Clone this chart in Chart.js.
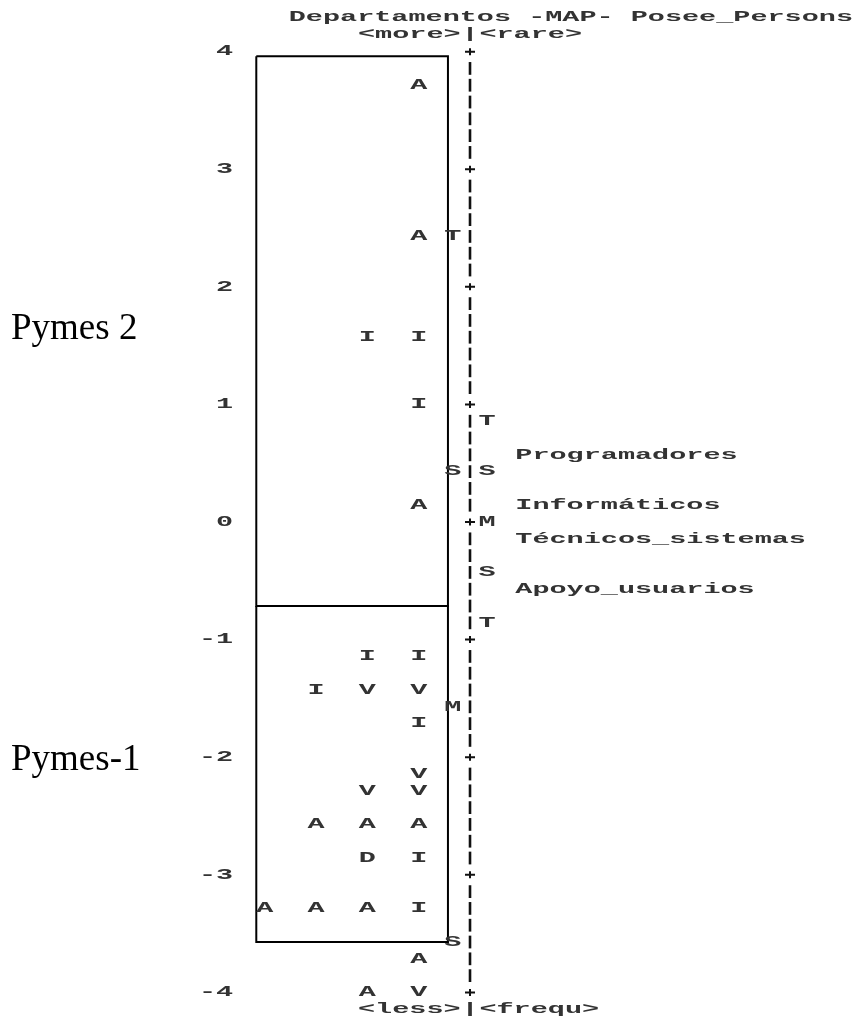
<!DOCTYPE html>
<html>
<head>
<meta charset="utf-8">
<script src="https://cdn.jsdelivr.net/npm/chart.js@4.4.1/dist/chart.umd.min.js"></script>
<style>
  html, body { margin: 0; padding: 0; background: #fff; }
  canvas { display: block; }
</style>
</head>
<body>
<canvas id="mapa" width="860" height="1019"></canvas>
<script>
// scale ticks of the logit axis
var tickValues = [4, 3, 2, 1, 0, -1, -2, -3, -4];

// persons: letter, column (text columns left of the axis), logit
var personCodes  = ['A', 'A', 'I', 'I', 'I', 'A', 'I', 'I', 'I', 'V', 'V', 'I', 'V', 'V', 'V', 'A', 'A', 'A', 'D', 'I', 'A', 'A', 'A', 'I', 'A', 'A', 'V'];
var personCols   = [-3, -3, -6, -3, -3, -3, -6, -3, -9, -6, -3, -3, -3, -6, -3, -9, -6, -3, -6, -3, -12, -9, -6, -3, -3, -6, -3];
var personLogits = [3.714, 2.429, 1.571, 1.571, 1.0, 0.143, -1.143, -1.143, -1.429, -1.429, -1.429, -1.714, -2.143, -2.286, -2.286,
                    -2.571, -2.571, -2.571, -2.857, -2.857, -3.286, -3.286, -3.286, -3.286, -3.714, -4.0, -4.0];

// person distribution markers (left of axis)
var personMarks  = ['T', 'S', 'M', 'S'];
var personMarkLogits = [2.429, 0.429, -1.571, -3.571];

// item distribution markers (right of axis)
var itemMarks  = ['T', 'S', 'M', 'S', 'T'];
var itemMarkLogits = [0.857, 0.429, 0, -0.429, -0.857];

// items
var itemNames  = ['Programadores', 'Informáticos', 'Técnicos_sistemas', 'Apoyo_usuarios'];
var itemLogits = [0.571, 0.143, -0.143, -0.571];

// groups framed on the map
var groupNames  = ['Pymes 2', 'Pymes-1'];
var groupTop    = [3.96, -0.714];
var groupBottom = [-0.714, -3.571];
var groupLabelLogits = [1.64, -2.03];

var headerTop  = 'Departamentos -MAP- Posee_Persons';
var headerLeft = ['<more>', '<less>'];
var headerRight = ['<rare>', '<frequ>'];

(function () {
    'use strict';

    var MONO = 'bold 15px "Liberation Mono", "DejaVu Sans Mono", monospace';
    var INK = '#333';

    function pts(cols, logits) {
        return logits.map(function (v, i) {
            return { x: Array.isArray(cols) ? cols[i] : cols, y: v };
        });
    }

    function boxData(i) {
        var l = -12.5, r = -1.29;
        return [
            { x: l, y: groupTop[i] }, { x: r, y: groupTop[i] },
            { x: r, y: groupBottom[i] }, { x: l, y: groupBottom[i] },
            { x: l, y: groupTop[i] }
        ];
    }

    function monoText(ctx, sx, text, x, y, align) {
        ctx.save();
        ctx.translate(x, y);
        ctx.scale(sx, 1);
        ctx.textAlign = align || 'center';
        ctx.fillText(text, 0, 0);
        ctx.restore();
    }

    var mapPlugin = {
        id: 'winstepsMap',
        afterDatasetsDraw: function (chart) {
            var ctx = chart.ctx;
            var xs = chart.scales.x;
            var ys = chart.scales.y;
            var charPx = xs.getPixelForValue(1) - xs.getPixelForValue(0);
            var rowPx = (ys.getPixelForValue(0) - ys.getPixelForValue(1)) / 7;
            var ax = xs.getPixelForValue(0);

            ctx.save();
            ctx.font = MONO;
            ctx.fillStyle = INK;
            ctx.textBaseline = 'middle';
            var sx = charPx / ctx.measureText('M').width;

            // axis: '|' per row, '+' at whole logits
            ctx.strokeStyle = '#111';
            for (var k = -28; k <= 28; k++) {
                var py = ys.getPixelForValue(k / 7);
                if (k % 7 === 0) {
                    ctx.lineWidth = 2;
                    ctx.beginPath();
                    ctx.moveTo(ax - 5, py);
                    ctx.lineTo(ax + 5, py);
                    ctx.moveTo(ax, py - 3.5);
                    ctx.lineTo(ax, py + 3.5);
                    ctx.stroke();
                } else {
                    ctx.lineWidth = 2.6;
                    ctx.beginPath();
                    ctx.moveTo(ax, py - rowPx * 0.38);
                    ctx.lineTo(ax, py + rowPx * 0.38);
                    ctx.stroke();
                }
            }

            // tick labels
            tickValues.forEach(function (v) {
                monoText(ctx, sx, String(v), xs.getPixelForValue(-13.85), ys.getPixelForValue(v), 'right');
            });

            // letters from datasets
            var labelSets = [personCodes, personMarks, itemMarks];
            labelSets.forEach(function (labels, di) {
                chart.getDatasetMeta(di).data.forEach(function (p, i) {
                    monoText(ctx, sx, labels[i], p.x, p.y, 'center');
                });
            });
            chart.getDatasetMeta(3).data.forEach(function (p, i) {
                monoText(ctx, sx, itemNames[i], p.x, p.y, 'left');
            });

            // header / footer
            var topY = ys.getPixelForValue(4.29);
            var subY = ys.getPixelForValue(4.15);
            var botY = ys.getPixelForValue(-4.14);
            monoText(ctx, sx, headerTop, xs.getPixelForValue(-10.6), topY, 'left');
            [subY, botY].forEach(function (py, i) {
                monoText(ctx, sx, headerLeft[i], ax - charPx * 0.55, py, 'right');
                monoText(ctx, sx, '|', ax, py, 'center');
                monoText(ctx, sx, headerRight[i], ax + charPx * 0.55, py, 'left');
            });

            // group labels
            ctx.font = '37px "Liberation Serif", "Times New Roman", serif';
            ctx.fillStyle = '#000';
            ctx.textAlign = 'left';
            groupNames.forEach(function (g, i) {
                ctx.fillText(g, 11, ys.getPixelForValue(groupLabelLogits[i]));
            });
            ctx.restore();
        }
    };

    var hidden = { pointRadius: 0, pointHoverRadius: 0, showLine: false };

    new Chart(document.getElementById('mapa').getContext('2d'), {
        type: 'scatter',
        data: {
            datasets: [
                Object.assign({ label: 'persons', data: pts(personCols, personLogits) }, hidden),
                Object.assign({ label: 'person marks', data: pts(-1, personMarkLogits) }, hidden),
                Object.assign({ label: 'item marks', data: pts(1, itemMarkLogits) }, hidden),
                Object.assign({ label: 'items', data: pts(2.65, itemLogits) }, hidden),
                { label: groupNames[0], data: boxData(0), showLine: true, borderColor: '#000', borderWidth: 2, pointRadius: 0 },
                { label: groupNames[1], data: boxData(1), showLine: true, borderColor: '#000', borderWidth: 2, pointRadius: 0 }
            ]
        },
        options: {
            responsive: false,
            animation: false,
            events: [],
            layout: { padding: 0 },
            plugins: { legend: { display: false }, tooltip: { enabled: false } },
            scales: {
                x: { type: 'linear', min: -27.49, max: 22.81, display: false },
                y: { type: 'linear', min: -4.226, max: 4.439, display: false }
            }
        },
        plugins: [mapPlugin]
    });
})();
</script>
</body>
</html>
